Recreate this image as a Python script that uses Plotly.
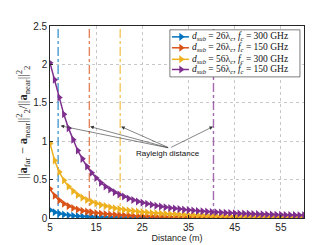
import plotly.graph_objects as go

distance = list(range(5, 61))

err_26_300 = [0.105, 0.075, 0.057, 0.044, 0.035, 0.029, 0.024, 0.020, 0.017, 0.015,
              0.013, 0.0115, 0.010, 0.009, 0.008, 0.0073, 0.0066, 0.006, 0.0055, 0.005,
              0.0046, 0.0043, 0.004, 0.0037, 0.0034, 0.0032, 0.003, 0.0028, 0.0026, 0.0025,
              0.0024, 0.0022, 0.0021, 0.002, 0.0019, 0.0018, 0.0017, 0.0016, 0.0016, 0.0015,
              0.0014, 0.0014, 0.0013, 0.0013, 0.0012, 0.0012, 0.0011, 0.0011, 0.0010, 0.0010,
              0.0010, 0.0009, 0.0009, 0.0009, 0.0008, 0.0008]
err_26_150 = [0.38, 0.29, 0.23, 0.185, 0.155, 0.13, 0.11, 0.095, 0.083, 0.073,
              0.065, 0.058, 0.052, 0.047, 0.042, 0.038, 0.035, 0.032, 0.029, 0.027,
              0.025, 0.023, 0.021, 0.020, 0.019, 0.017, 0.016, 0.015, 0.014, 0.0135,
              0.013, 0.012, 0.0114, 0.0108, 0.0102, 0.0097, 0.0092, 0.0088, 0.0084, 0.008,
              0.0076, 0.0073, 0.007, 0.0067, 0.0064, 0.0062, 0.0059, 0.0057, 0.0055, 0.0053,
              0.0051, 0.0049, 0.0047, 0.0046, 0.0044, 0.0043]
err_56_300 = [0.97, 0.75, 0.60, 0.49, 0.41, 0.35, 0.30, 0.265, 0.235, 0.21,
              0.19, 0.17, 0.155, 0.14, 0.128, 0.117, 0.107, 0.098, 0.09, 0.083,
              0.077, 0.071, 0.066, 0.062, 0.058, 0.054, 0.051, 0.048, 0.045, 0.042,
              0.040, 0.038, 0.036, 0.034, 0.032, 0.031, 0.029, 0.028, 0.027, 0.026,
              0.025, 0.024, 0.023, 0.022, 0.021, 0.020, 0.0195, 0.019, 0.018, 0.0175,
              0.017, 0.016, 0.0155, 0.015, 0.0145, 0.014]
err_56_150 = [2.02, 1.80, 1.57, 1.35, 1.17, 1.02, 0.88, 0.77, 0.67, 0.59,
              0.52, 0.46, 0.41, 0.37, 0.335, 0.305, 0.28, 0.255, 0.235, 0.215,
              0.20, 0.185, 0.172, 0.16, 0.15, 0.14, 0.131, 0.123, 0.116, 0.109,
              0.103, 0.097, 0.092, 0.087, 0.083, 0.079, 0.075, 0.071, 0.068, 0.065,
              0.062, 0.059, 0.057, 0.054, 0.052, 0.050, 0.048, 0.046, 0.045, 0.043,
              0.041, 0.040, 0.039, 0.037, 0.036, 0.035]

rayleigh = [6.76, 13.52, 20.2, 40.4]
labels = [
    "<i>d</i><sub><i>sub</i></sub> = 26λ<sub><i>c</i></sub>, <i>f</i><sub><i>c</i></sub> = 300 GHz",
    "<i>d</i><sub><i>sub</i></sub> = 26λ<sub><i>c</i></sub>, <i>f</i><sub><i>c</i></sub> = 150 GHz",
    "<i>d</i><sub><i>sub</i></sub> = 56λ<sub><i>c</i></sub>, <i>f</i><sub><i>c</i></sub> = 300 GHz",
    "<i>d</i><sub><i>sub</i></sub> = 56λ<sub><i>c</i></sub>, <i>f</i><sub><i>c</i></sub> = 150 GHz",
]
colors = ["#0072BD", "#D95319", "#EDB120", "#7E2F8E"]
series = [err_26_300, err_26_150, err_56_300, err_56_150]

x_ticks = [5, 15, 25, 35, 45, 55]
y_ticks = [0, 0.5, 1, 1.5, 2, 2.5]

# arrow heads on the Rayleigh lines, arrow tail and label position
arrow_heads = [(7.3, 1.20), (13.7, 1.19), (20.4, 1.19), (40.3, 1.19)]
arrow_tail = (30.9, 0.91)
label_pos = (30.5, 0.84)

# legend layout in plot-area fractions
leg_box = (0.472, 0.984, 0.735, 0.98)
leg_rows = [0.9435, 0.8865, 0.8265, 0.7735]
leg_line = (0.480, 0.547)
leg_mark = 0.516
leg_text = 0.553

fig = go.Figure()

for rd, c in zip(rayleigh, colors):
    fig.add_trace(go.Scatter(x=[rd, rd], y=[0, 2.5], mode="lines",
                             line=dict(color=c, width=1.4, dash="dashdot"),
                             opacity=0.7, showlegend=False, hoverinfo="skip"))

for ys, c, lab in zip(series, colors, labels):
    fig.add_trace(go.Scatter(x=distance, y=ys, mode="lines+markers", name=lab,
                             line=dict(color=c, width=1.5), showlegend=False,
                             marker=dict(symbol="triangle-right", size=7, color=c)))

# legend box (overlay axes spanning the plot area)
bx0, bx1, by0, by1 = leg_box
fig.add_trace(go.Scatter(x=[bx0, bx1, bx1, bx0, bx0], y=[by0, by0, by1, by1, by0],
                         mode="lines", fill="toself", fillcolor="white",
                         line=dict(color="#262626", width=0.6),
                         xaxis="x2", yaxis="y2", showlegend=False, hoverinfo="skip"))
for ry, c, lab in zip(leg_rows, colors, labels):
    fig.add_trace(go.Scatter(x=[leg_line[0], leg_line[1]], y=[ry, ry], mode="lines",
                             line=dict(color=c, width=1.5), xaxis="x2", yaxis="y2",
                             showlegend=False, hoverinfo="skip"))
    fig.add_trace(go.Scatter(x=[leg_mark], y=[ry], mode="markers",
                             marker=dict(symbol="triangle-right", size=7, color=c),
                             xaxis="x2", yaxis="y2", showlegend=False, hoverinfo="skip"))
    fig.add_annotation(x=leg_text, y=ry, xref="x2", yref="y2", text=lab,
                       showarrow=False, xanchor="left", yanchor="middle",
                       font=dict(family="Liberation Serif, Times New Roman", size=9.5,
                                 color="#111111"))

for hx, hy in arrow_heads:
    fig.add_annotation(x=hx, y=hy, ax=arrow_tail[0], ay=arrow_tail[1],
                       xref="x", yref="y", axref="x", ayref="y", text="",
                       showarrow=True, arrowhead=2, arrowsize=1.2, arrowwidth=0.6,
                       arrowcolor="#333333")
fig.add_annotation(x=label_pos[0], y=label_pos[1], text="Rayleigh distance",
                   showarrow=False, xref="x", yref="y",
                   font=dict(family="Liberation Sans, Arial", size=8, color="#111111"))

axis_common = dict(showline=True, linecolor="#262626", linewidth=0.6, mirror=True,
                   ticks="inside", ticklen=3, tickcolor="#262626",
                   showgrid=True, gridcolor="#c8c8c8", griddash="dot", gridwidth=0.6,
                   zeroline=False,
                   tickfont=dict(family="Liberation Sans, Arial", size=10, color="#262626"))

fig.update_layout(
    width=327, height=245,
    margin=dict(l=42, r=31, t=18, b=27),
    plot_bgcolor="white", paper_bgcolor="white",
    xaxis=dict(range=[5, 60], tickvals=x_ticks, ticktext=[str(t) for t in x_ticks],
               title=dict(text="Distance (m)", standoff=2,
                          font=dict(family="Liberation Sans, Arial", size=9, color="#262626")),
               **axis_common),
    yaxis=dict(range=[0, 2.5], tickvals=y_ticks, ticktext=["0", "0.5", "1", "1.5", "2", "2.5"],
               title=dict(text="||<b>a</b><sub>far</sub> − <b>a</b><sub>near</sub>||<sup>2</sup><sub>2</sub>/||<b>a</b><sub>near</sub>||<sup>2</sup><sub>2</sub>",
                          standoff=2,
                          font=dict(family="Liberation Serif, Times New Roman", size=12.5, color="#262626")),
               **axis_common),
    xaxis2=dict(overlaying="x", range=[0, 1], visible=False, fixedrange=True),
    yaxis2=dict(overlaying="y", range=[0, 1], visible=False, fixedrange=True),
    showlegend=False,
)

fig.write_html("out.html")
